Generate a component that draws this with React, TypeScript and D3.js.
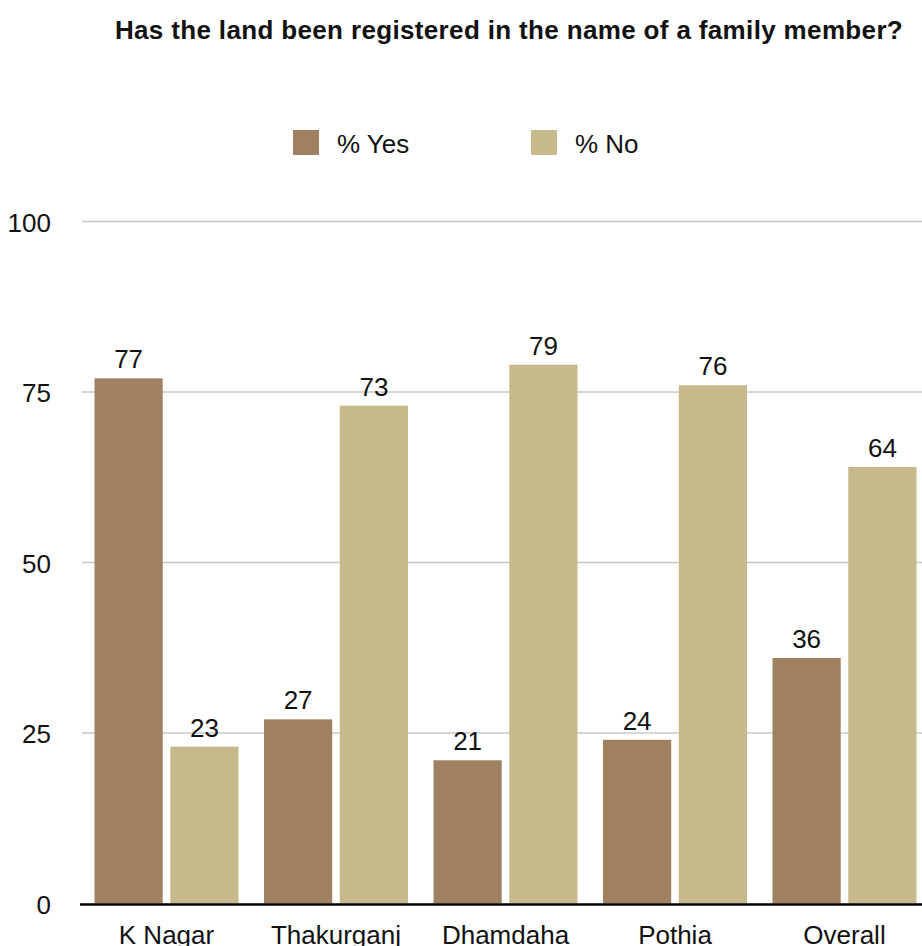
import React from "react";
import * as d3 from "d3";

const categories = ["K Nagar", "Thakurganj", "Dhamdaha", "Pothia", "Overall"];
const seriesKeys = ["% Yes", "% No"];
const yesValues = [77, 27, 21, 24, 36];
const noValues = [23, 73, 79, 76, 64];
const yTicks = [0, 25, 50, 75, 100];
const colors = ["#9f8061", "#c6b98c"];
const title = "Has the land been registered in the name of a family member?";

const W = 922;
const H = 946;
const FONT = "'Liberation Sans', Arial, Helvetica, sans-serif";

export default function App() {
  const y = d3.scaleLinear().domain([0, 100]).range([903.5, 221.5]);
  const x0 = d3.scaleBand().domain(categories).range([81.75, 929.25]).padding(0);
  const x1 = d3.scaleBand().domain(seriesKeys).range([0, 144]).paddingInner(0.1);
  const series = [yesValues, noValues];

  return (
    <svg
      width={W}
      height={H}
      style={{ position: "absolute", left: 0, top: 0, background: "#fff" }}
      fontFamily={FONT}
    >
      <text x={509} y={38.5} textAnchor="middle" fontSize={26} fontWeight="bold" letterSpacing={0.35} fill="#111">
        {title}
      </text>
      {/* legend */}
      {seriesKeys.map((k, i) => {
        const lx = [293, 531][i];
        return (
          <g key={k}>
            <rect x={lx} y={130} width={26} height={25} fill={colors[i]} />
            <text x={lx + 44} y={153} fontSize={26} fill="#111">
              {k}
            </text>
          </g>
        );
      })}
      {/* grid */}
      {yTicks.map((t) => (
        <g key={t}>
          {t !== 0 && (
            <line x1={82} x2={W} y1={y(t)} y2={y(t)} stroke="#c8c8c8" strokeWidth={1.5} />
          )}
          <text x={51} y={y(t) + 10} textAnchor="end" fontSize={26} fill="#111">
            {t}
          </text>
        </g>
      ))}
      {/* bars */}
      {categories.map((c, ci) => {
        const gx = x0(c)! + x0.bandwidth() / 2 - 72;
        return (
          <g key={c}>
            {seriesKeys.map((k, si) => {
              const v = series[si][ci];
              const bx = gx + x1(k)!;
              const bw = x1.bandwidth();
              return (
                <g key={k}>
                  <rect x={bx} y={y(v)} width={bw} height={y(0) - y(v)} fill={colors[si]} />
                  <text x={bx + bw / 2} y={y(v) - 10} textAnchor="middle" fontSize={26} fill="#111">
                    {v}
                  </text>
                </g>
              );
            })}
            <text x={x0(c)! + x0.bandwidth() / 2} y={944} textAnchor="middle" fontSize={26} fill="#111">
              {c}
            </text>
          </g>
        );
      })}
      <line x1={80} x2={W} y1={y(0) + 1} y2={y(0) + 1} stroke="#000" strokeWidth={2.5} />
    </svg>
  );
}
